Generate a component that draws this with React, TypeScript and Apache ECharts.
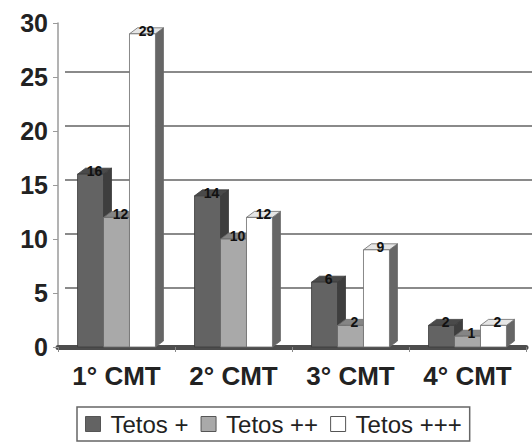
import React, { useEffect, useRef } from "react";
import * as echarts from "echarts";

const categories = ["1° CMT", "2° CMT", "3° CMT", "4° CMT"];
const seriesNames = ["Tetos +", "Tetos ++", "Tetos +++"];
const tetos1 = [16, 14, 6, 2];
const tetos2 = [12, 10, 2, 1];
const tetos3 = [29, 12, 9, 2];
const yTicks = { min: 0, max: 30, interval: 5 };

const DX = 8;
const DY = 6;
const BAR_FRAC = 0.222;

const palettes = [
  { front: "#636363", side: "#3e3e3e", top: "#4a4a4a", stroke: "#3a3a3a" },
  { front: "#a9a9a9", side: "#6e6e6e", top: "#858585", stroke: "#6a6a6a" },
  { front: "#ffffff", side: "#666666", top: "#e6e6e6", stroke: "#6a6a6a" },
];

function makeRender(idx: number) {
  const p = palettes[idx];
  return (params: any, api: any) => {
    const cat = api.value(0);
    const v = api.value(1);
    const base = api.coord([cat, 0]);
    const topPt = api.coord([cat, v]);
    const band = api.size([1, 0])[0];
    const bw = band * BAR_FRAC;
    const x0 = base[0] - 1.5 * bw + idx * bw;
    const yb = base[1];
    const yt = topPt[1];
    return {
      type: "group",
      children: [
        {
          type: "polygon",
          shape: {
            points: [
              [x0 + bw, yt],
              [x0 + bw + DX, yt - DY],
              [x0 + bw + DX, yb - DY],
              [x0 + bw, yb],
            ],
          },
          style: { fill: p.side, stroke: p.stroke, lineWidth: 0.8 },
        },
        {
          type: "polygon",
          shape: {
            points: [
              [x0, yt],
              [x0 + DX, yt - DY],
              [x0 + bw + DX, yt - DY],
              [x0 + bw, yt],
            ],
          },
          style: { fill: p.top, stroke: p.stroke, lineWidth: 0.8 },
        },
        {
          type: "rect",
          shape: { x: x0, y: yt, width: bw, height: yb - yt },
          style: { fill: p.front, stroke: p.stroke, lineWidth: 0.8 },
        },
        {
          type: "text",
          x: x0 + bw / 2 + DX / 2,
          y: yt - DY / 2,
          style: {
            text: String(v),
            fill: "#111",
            font: "bold 14px 'Liberation Sans', Arial, sans-serif",
            align: "center",
            verticalAlign: "middle",
          },
        },
      ],
    };
  };
}

export default function App() {
  const ref = useRef<HTMLDivElement>(null);
  useEffect(() => {
    if (!ref.current) return;
    const chart = echarts.init(ref.current, null, { renderer: "svg" });
    const dataSets = [tetos1, tetos2, tetos3];
    const font = "'Liberation Sans', Arial, sans-serif";
    chart.setOption({
      animation: false,
      backgroundColor: "#ffffff",
      grid: [
        { left: 58, right: 6, top: 23, bottom: 96 },
        { left: 65, right: 0, top: 18, bottom: 101 },
      ],
      legend: {
        left: 77,
        top: 407,
        orient: "horizontal",
        padding: [5, 8],
        borderColor: "#666",
        borderWidth: 1.5,
        itemWidth: 15,
        itemHeight: 15,
        itemGap: 12,
        icon: "rect",
        textStyle: { fontSize: 24, color: "#222", fontFamily: font, padding: [0, 0, 0, 5] },
        data: seriesNames.map((n, i) => ({
          name: n,
          itemStyle: { color: palettes[i].front, borderColor: "#555", borderWidth: 1 },
        })),
      },
      xAxis: [
        {
          type: "category",
          gridIndex: 0,
          data: categories,
          boundaryGap: true,
          axisLine: { show: true, lineStyle: { color: "#4d4d4d", width: 5 } },
          axisTick: { show: true, length: 5, lineStyle: { color: "#888" } },
          axisLabel: { fontSize: 26, fontWeight: "bold", color: "#222", fontFamily: font, margin: 16 },
          splitLine: { show: false },
        },
        {
          type: "category",
          gridIndex: 1,
          data: categories,
          show: false,
        },
      ],
      yAxis: [
        {
          type: "value",
          gridIndex: 0,
          min: yTicks.min,
          max: yTicks.max,
          interval: yTicks.interval,
          axisLine: { show: true, lineStyle: { color: "#9a9a9a", width: 1.5 } },
          axisTick: { show: true, length: 5, lineStyle: { color: "#9a9a9a" } },
          axisLabel: { fontSize: 25, fontWeight: "bold", color: "#222", fontFamily: font, margin: 10 },
          splitLine: { show: false },
        },
        {
          type: "value",
          gridIndex: 1,
          min: yTicks.min,
          max: yTicks.max,
          interval: yTicks.interval,
          axisLine: { show: false },
          axisTick: { show: false },
          axisLabel: { show: false },
          splitLine: {
            show: true,
            showMinLine: false,
            showMaxLine: false,
            lineStyle: { color: "#8a8a8a", width: 2 },
          },
        },
      ],
      series: dataSets.map((d, i) => ({
        name: seriesNames[i],
        type: "custom",
        coordinateSystem: "cartesian2d",
        xAxisIndex: 0,
        yAxisIndex: 0,
        encode: { x: 0, y: 1 },
        itemStyle: { color: palettes[i].front, borderColor: "#555" },
        renderItem: makeRender(i),
        data: d.map((v, c) => [c, v]),
        z: 3,
      })),
    });
    return () => chart.dispose();
  }, []);
  return (
    <div
      ref={ref}
      style={{ position: "fixed", left: 0, top: 0, width: 532, height: 443 }}
    />
  );
}
